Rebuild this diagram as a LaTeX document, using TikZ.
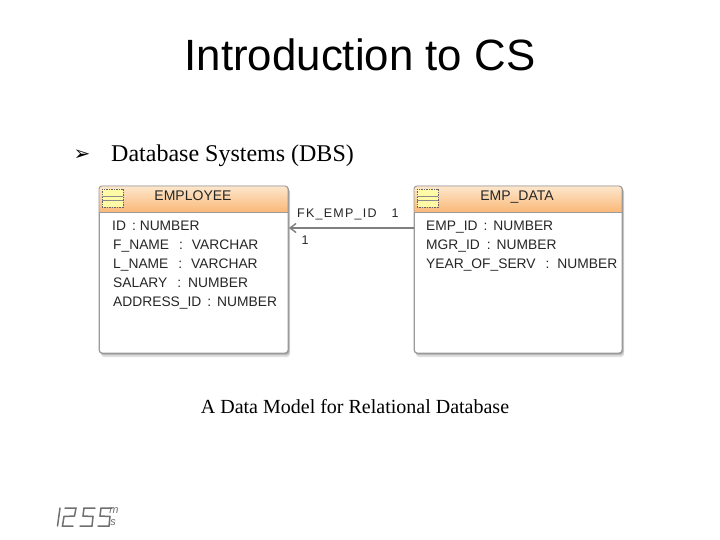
\documentclass[tikz,border=0pt]{standalone}
\usepackage{fontspec}
\setmainfont{Liberation Serif}
\setsansfont{Liberation Sans}
\newfontfamily\symfont{DejaVu Sans}
\usetikzlibrary{arrows.meta,calc}
\definecolor{hdrtop}{HTML}{FDE7CC}
\definecolor{hdrbot}{HTML}{F9B878}
\definecolor{edgegrey}{HTML}{9A9A9A}
\definecolor{linkgrey}{HTML}{808080}
\definecolor{clockgrey}{HTML}{707070}
\tikzset{
  table/.style={draw=edgegrey,line width=0.9pt,rounded corners=3pt,fill=white,anchor=north west,inner sep=0pt},
  tname/.style={font=\sffamily\fontsize{14}{15}\selectfont,text=black!85,inner sep=0pt,anchor=base},
  col/.style={font=\sffamily\fontsize{13.8}{15}\selectfont,text=black!85,anchor=base west,inner sep=0pt},
  lbl/.style={font=\sffamily\fontsize{12.5}{14}\selectfont,text=black!85,inner sep=0pt,anchor=base},
  seg/.style={draw=clockgrey,line width=1.5pt,line cap=round},
  unitlbl/.style={font=\sffamily\itshape\fontsize{11}{11}\selectfont,text=clockgrey,inner sep=0pt}
}
\newcommand{\erdtable}[4]{% name x y w
  \fill[black!12,rounded corners=3pt] (#2+2,#3+3) rectangle ++(#4,168);
  \fill[black!28,rounded corners=3pt] (#2+1.5,#3+2) rectangle ++(#4,167);
  \node[table,minimum width=#4pt,minimum height=167pt] (#1) at (#2,#3) {};
  \begin{scope}
    \clip[rounded corners=3pt] (#2,#3) rectangle ++(#4,167);
    \shade[top color=hdrtop,bottom color=hdrbot] (#2,#3) rectangle ++(#4,26);
    \draw[edgegrey,line width=0.6pt] (#2,#3+26) -- ++(#4,0);
  \end{scope}
  \draw[edgegrey,line width=0.9pt,rounded corners=3pt] (#2,#3) rectangle ++(#4,167);
  \fill[yellow!35] (#2+3,#3+3) rectangle ++(21,18);
  \draw[black!60,dash pattern=on 1.5pt off 1pt,line width=0.7pt] (#2+3,#3+3) rectangle ++(21,18);
  \draw[black!45,line width=0.4pt] (#2+3,#3+10) -- ++(21,0) (#2+3,#3+14) -- ++(21,0);
}
\begin{document}
\begin{tikzpicture}[x=1pt,y=-1pt]
\useasboundingbox (0,0) rectangle (720,540);
\fill[white] (0,0) rectangle (720,540);
\node[font=\sffamily\fontsize{43.8}{48}\selectfont,inner sep=0pt] (title) at (360,55) {Introduction to CS};
\node[font=\symfont\fontsize{20}{22}\selectfont,inner sep=0pt] (bullet) at (82,155) {➢};
\node[font=\fontsize{24}{26}\selectfont,inner sep=0pt,anchor=base west] (sub) at (111,162) {Database Systems (DBS)};
\erdtable{employee}{99}{186}{189}
\erdtable{empdata}{414}{186}{208}
\node[tname] (t1) at (193,201) {EMPLOYEE};
\node[tname] (t2) at (517,201) {EMP\_DATA};
\node[col] (a1) at (112,230) {ID\ \,: NUMBER};
\node[col] (a2) at (113,249) {F\_NAME\hspace{10pt}:\hspace{9pt}VARCHAR};
\node[col] (a3) at (113,268) {L\_NAME\hspace{10pt}:\hspace{9pt}VARCHAR};
\node[col] (a4) at (113,287) {SALARY\hspace{10pt}:\hspace{7pt}NUMBER};
\node[col] (a5) at (113,306) {ADDRESS\_ID\hspace{6pt}:\hspace{6pt}NUMBER};
\node[col] (b1) at (426,230) {EMP\_ID\hspace{6pt}:\hspace{6pt}NUMBER};
\node[col] (b2) at (426,249) {MGR\_ID\hspace{7pt}:\hspace{6pt}NUMBER};
\node[col] (b3) at (426,268) {YEAR\_OF\_SERV\hspace{10pt}:\hspace{8pt}NUMBER};
\coordinate (linky) at (0,228);
\draw[linkgrey,line width=1.4pt,-{Straight Barb[length=6pt,width=9pt]}] (empdata.west |- linky) -- (employee.east |- linky);
\node[lbl,anchor=base west,font=\sffamily\fontsize{12.5}{14}\selectfont\addfontfeature{LetterSpace=10}] (fk) at (297,218) {FK\_EMP\_ID};
\node[lbl] (n1) at (395,218) {1};
\node[lbl] (n2) at (305,244) {1};
\node[font=\fontsize{20}{22}\selectfont,inner sep=0pt,anchor=base] (cap) at (355,413) {A Data Model for Relational Database};
% clock
\draw[seg] (60,508) -- (57.5,526);
\draw[seg] (65,508) -- (76,508) -- (74.5,516) -- (64,516.5) -- (62.5,526) -- (73,526);
\draw[seg] (95,508) -- (84,508) -- (83,516) -- (93,516.5) -- (92,526) -- (80,526);
\draw[seg] (112,508) -- (101,508) -- (100,516) -- (110,516.5) -- (109,526) -- (98,526);
\node[unitlbl] (um) at (114,511) {m};
\node[unitlbl] (us) at (113,523) {s};
\end{tikzpicture}
\end{document}
